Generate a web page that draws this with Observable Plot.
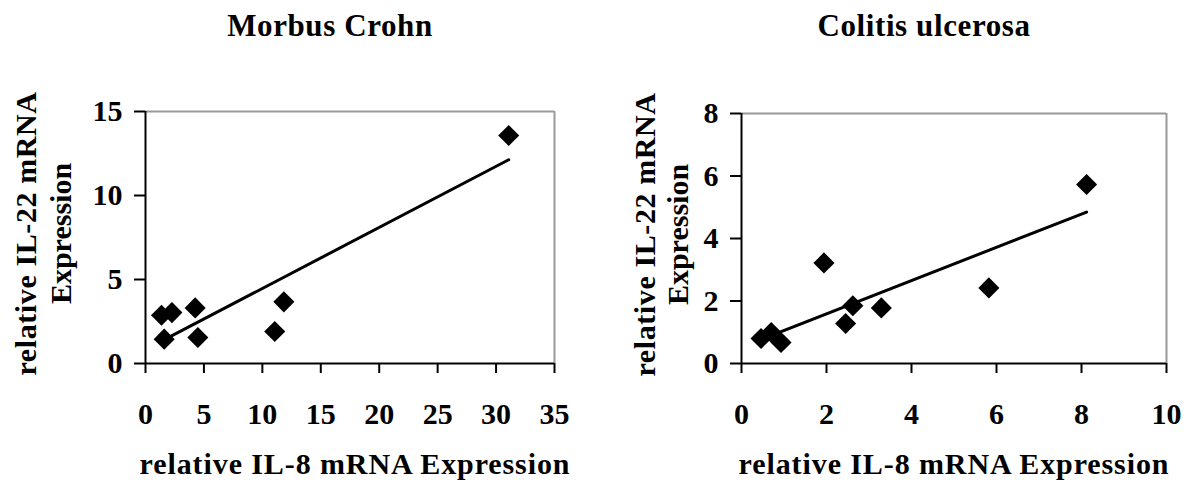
<!DOCTYPE html>
<html>
<head>
<meta charset="utf-8">
<script src="https://cdn.jsdelivr.net/npm/d3@7"></script>
<script src="https://cdn.jsdelivr.net/npm/@observablehq/plot@0.6"></script>
<style>
  html, body { margin: 0; padding: 0; background: #fff; }
  #wrap { position: relative; width: 1186px; height: 488px; background: #fff; overflow: hidden; }
  .title { position: absolute; top: 11px; font-family: "Liberation Serif", "Times New Roman", serif; font-weight: bold; font-size: 31px; letter-spacing: 0.6px; line-height: 30px; white-space: nowrap; transform: translateX(-50%); color: #000; }
  svg { position: absolute; top: 0; }
</style>
</head>
<body>
<div id="wrap"></div>
<script>
// Morbus Crohn panel
const mcTitle = "Morbus Crohn";
const mcIL8  = [1.37, 2.26, 4.25, 1.60, 4.48, 11.06, 11.84, 31.08];
const mcIL22 = [2.87, 3.03, 3.31, 1.45, 1.55, 1.90, 3.67, 13.57];
const mcXTicks = [0, 5, 10, 15, 20, 25, 30, 35];
const mcYTicks = [0, 5, 10, 15];

// Colitis ulcerosa panel
const ucTitle = "Colitis ulcerosa";
const ucIL8  = [0.46, 0.70, 0.93, 1.94, 2.45, 2.62, 3.29, 5.82, 8.12];
const ucIL22 = [0.80, 0.99, 0.67, 3.22, 1.28, 1.85, 1.78, 2.42, 5.73];
const ucXTicks = [0, 2, 4, 6, 8, 10];
const ucYTicks = [0, 2, 4, 6, 8];

const xLabel = "relative IL-8 mRNA Expression";
const yLabel1 = "relative IL-22 mRNA";
const yLabel2 = "Expression";

const font = "'Liberation Serif', 'Times New Roman', serif";

function panel({xs, ys, xTicks, yTicks, marginLeft, marginRight, marginTop, yl1dx, yl2dx, xldx}) {
  const data = xs.map((x, i) => ({x, y: ys[i]}));
  const xMax = xTicks[xTicks.length - 1];
  const yMax = yTicks[yTicks.length - 1];
  return Plot.plot({
    width: 593,
    height: 488,
    marginLeft, marginRight, marginTop, marginBottom: 125,
    style: {fontFamily: font, fontSize: "30px", fontWeight: "bold", color: "#000", background: "transparent", overflow: "visible"},
    x: {domain: [xTicks[0], xMax]},
    y: {domain: [yTicks[0], yMax]},
    marks: [
      Plot.ruleY([yMax], {stroke: "#999", strokeWidth: 2}),
      Plot.ruleX([xMax], {stroke: "#999", strokeWidth: 2}),
      Plot.axisX({ticks: xTicks, tickSize: 10, tickPadding: 29, strokeWidth: 2, label: null, fontSize: 30, fill: "#000", stroke: "#000"}),
      Plot.axisY({ticks: yTicks, tickSize: 11, tickPadding: 12, strokeWidth: 2, label: null, fontSize: 30, fill: "#000", stroke: "#000"}),
      Plot.ruleX([xTicks[0]], {stroke: "#000", strokeWidth: 2}),
      Plot.ruleY([yTicks[0]], {stroke: "#000", strokeWidth: 2}),
      Plot.dot(data, {x: "x", y: "y", symbol: "diamond2", r: 9.5, fill: "#000", stroke: "none"}),
      Plot.linearRegressionY(data, {x: "x", y: "y", ci: 0, stroke: "#000", strokeWidth: 3}),
      Plot.text([xLabel], {text: d => d, frameAnchor: "bottom", textAnchor: "middle", dx: xldx, dy: 110, fontSize: 30, fill: "#000"}),
      Plot.text([yLabel1], {text: d => d, frameAnchor: "left", textAnchor: "middle", rotate: -90, dx: yl1dx, dy: -4, fontSize: 30, fill: "#000"}),
      Plot.text([yLabel2], {text: d => d, frameAnchor: "left", textAnchor: "middle", rotate: -90, dx: yl2dx, dy: -4, fontSize: 30, fill: "#000"})
    ]
  });
}

const wrap = document.getElementById("wrap");

const left = panel({xs: mcIL8, ys: mcIL22, xTicks: mcXTicks, yTicks: mcYTicks,
  marginLeft: 145, marginRight: 39, marginTop: 111, yl1dx: -119, yl2dx: -84, xldx: 5});
left.style.left = "0px";
wrap.appendChild(left);

const right = panel({xs: ucIL8, ys: ucIL22, xTicks: ucXTicks, yTicks: ucYTicks,
  marginLeft: 148, marginRight: 20, marginTop: 113, yl1dx: -96, yl2dx: -63, xldx: 0});
right.style.left = "593px";
wrap.appendChild(right);

// letter-spacing on the axis titles
wrap.querySelectorAll("svg text").forEach(t => {
  if (t.textContent === xLabel) t.setAttribute("letter-spacing", "0.9");
  if (t.textContent === yLabel1) t.setAttribute("letter-spacing", "0.6");
});

function addTitle(text, cx) {
  const d = document.createElement("div");
  d.className = "title";
  d.style.left = cx + "px";
  d.textContent = text;
  wrap.appendChild(d);
}
addTitle(mcTitle, 330);
addTitle(ucTitle, 924);
</script>
</body>
</html>
